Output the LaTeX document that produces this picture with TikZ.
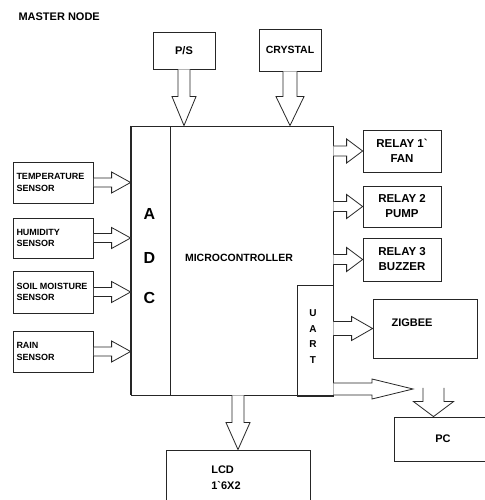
\documentclass[tikz,border=0pt]{standalone}
\usepackage{fontspec}
\setmainfont{Liberation Sans}
\usetikzlibrary{calc,positioning}
\tikzset{blk/.style={draw=black!85,line width=.8pt,inner sep=0pt,align=center,font=\bfseries\fontsize{11}{14}\selectfont},
sens/.style={minimum width=79pt,text width=74pt,inner xsep=3pt,align=flush left,font=\bfseries\fontsize{9}{11.5}\selectfont,execute at begin node={\hyphenpenalty=10000 }},
relay/.style={minimum width=78pt,font=\bfseries\fontsize{11.5}{15}\selectfont},
hollow/.style={draw=black!85,line width=.8pt,fill=white,line join=miter}}
% block arrows: from, to, shaft half width, head half width, head length
\newcommand\rarr[5]{\draw[hollow] ($(#1)+(0,#3)$) -- ($(#2)+(-#5,#3)$) -- ($(#2)+(-#5,#4)$) -- (#2) -- ($(#2)+(-#5,-#4)$) -- ($(#2)+(-#5,-#3)$) -- ($(#1)+(0,-#3)$);}
\newcommand\darr[5]{\draw[hollow] ($(#1)+(-#3,0)$) -- ($(#2)+(-#3,#5)$) -- ($(#2)+(-#4,#5)$) -- (#2) -- ($(#2)+(#4,#5)$) -- ($(#2)+(#3,#5)$) -- ($(#1)+(#3,0)$);}
\begin{document}
\begin{tikzpicture}[x=1pt,y=1pt]
\useasboundingbox (0,0) rectangle (484,500);
\node[anchor=west,font=\bfseries\fontsize{11}{13}\selectfont] (title) at (15,483.5) {MASTER NODE};
% controller
\node[blk,minimum width=202pt,minimum height=269pt] (mcu) at (232,239.5) {};
\node[blk,minimum width=39pt,minimum height=269pt] (adc) at (150.5,239.5) {};
\draw[line width=1.6pt,black!85] (adc.north west) -- (adc.south west);
\node[blk,minimum width=36pt,minimum height=111pt] (uart) at (315,159.5) {};
\node[font=\bfseries\fontsize{10.5}{12}\selectfont] (mcutxt) at (239,242) {MICROCONTROLLER};
\foreach \l/\y in {A/286,D/242,C/202}{\node[font=\bfseries\fontsize{16}{18}\selectfont] (adc\l) at (149.5,\y) {\l};}
\foreach \l/\y in {U/187,A/171,R/156,T/140}{\node[font=\bfseries\fontsize{10}{12}\selectfont] (uart\l) at (313,\y) {\l};}
% inputs
\node[blk,minimum width=62pt,minimum height=37pt] (ps) at (184,449.5) {P/S};
\node[blk,minimum width=62pt,minimum height=42pt,font=\bfseries\fontsize{10.5}{12}\selectfont] (xtal) at (290,450) {CRYSTAL};
\darr{ps.south}{ps.south |- mcu.north}{6}{12}{29}
\darr{xtal.south}{xtal.south |- mcu.north}{7}{14}{29}
\foreach \n/\t/\y/\h in {temp/{TEMPERATURE\\SENSOR}/317.5/41,hum/{HUMIDITY\\SENSOR}/262/40,soil/{SOIL MOISTURE\\SENSOR}/208/42,rain/{RAIN\\SENSOR}/148.5/41}{
\node[blk,sens,minimum height=\h pt] (\n) at (53.5,\y) {\t};
\rarr{\n.east}{\n.east -| adc.west}{4.5}{10.5}{19}}
% outputs
\foreach \n/\t/\y/\h in {r1/{RELAY 1\textasciigrave\\FAN}/349/42,r2/{RELAY 2\\PUMP}/293.5/41,r3/{RELAY 3\\BUZZER}/240.5/43}{
\node[blk,relay,minimum height=\h pt] (\n) at (402,\y) {\t};
\rarr{mcu.east |- \n.west}{\n.west}{5}{12}{16}}
\node[blk,minimum width=104pt,minimum height=59pt] (zig) at (425,171.5) {};
\node[font=\bfseries\fontsize{11}{13}\selectfont] (zigtxt) at (412,177) {ZIGBEE};
\rarr{uart.east |- zig.west}{zig.west}{7}{12}{21}
\node[blk,minimum width=98pt,minimum height=44pt] (pc) at (443,61) {PC};
\coordinate (pctip) at (413,111);
\coordinate (pcsrc) at (433.5,112);
\rarr{uart.east |- pctip}{pctip}{6}{10}{41}
\darr{pcsrc}{pcsrc |- pc.north}{10.5}{20}{15}
\node[blk,minimum width=144pt,minimum height=70pt] (lcd) at (238,15) {};
\node[align=left,font=\bfseries\fontsize{11}{16}\selectfont] (lcdtxt) at (226,22) {LCD\\1\textasciigrave 6X2};
\coordinate (lcdsrc) at (lcd.north |- mcu.south);
\darr{lcdsrc}{lcd.north}{6}{12}{27}
\end{tikzpicture}
\end{document}
